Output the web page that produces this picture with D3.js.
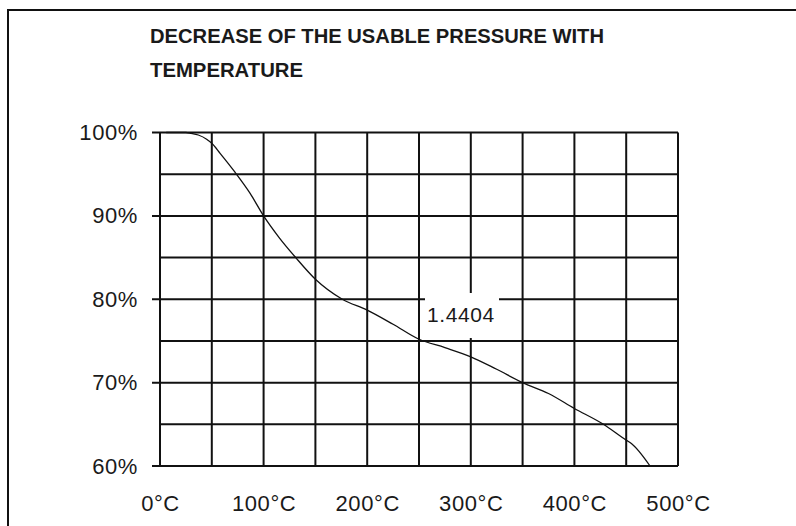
<!DOCTYPE html>
<html lang="en">
<head>
<meta charset="UTF-8">
<title>Decrease of the usable pressure with temperature</title>
<script src="https://cdn.jsdelivr.net/npm/d3@7/dist/d3.min.js"></script>
<style>
  body { margin: 0; background: #fff; }
  text { font-family: "Liberation Sans", Arial, sans-serif; fill: #1a1a1a; }
</style>
</head>
<body>
<svg width="796" height="526"></svg>
<script>
// data
var titleLines = ["DECREASE OF THE USABLE PRESSURE WITH", "TEMPERATURE"];
var temps = [6, 25, 30, 37, 45, 50, 58, 72, 87, 100, 115, 131, 150, 176, 200, 225, 250, 275, 300, 325, 350, 375, 400, 428, 450, 455, 473];
var usable = [100, 100, 99.9, 99.7, 99.2, 98.7, 97.5, 95.3, 92.7, 90, 87.4, 85, 82.4, 80, 78.7, 77, 75.2, 74.2, 73.1, 71.6, 70, 68.7, 66.9, 65, 63.1, 62.7, 60];
var xTicks = [0, 100, 200, 300, 400, 500];
var yTicks = [60, 70, 80, 90, 100];
var note = "1.4404";

var svg = d3.select("svg");
var marge = {top: 132.5, left: 160, right: 118, bottom: 60};
var w = 796 - marge.left - marge.right;   // 518
var h = 466 - marge.top;

// outer frame (runs off the right and bottom edges)
svg.append("rect")
    .attr("x", 8).attr("y", 10)
    .attr("width", 820).attr("height", 560)
    .attr("fill", "none").attr("stroke", "#111").attr("stroke-width", 2);

// title
var titleLen = [454, 153];
svg.selectAll(".title").data(titleLines).enter().append("text")
    .attr("class", "title")
    .attr("x", 150)
    .attr("y", function(d, i) { return 43 + i * 34; })
    .attr("font-size", 21)
    .attr("font-weight", "bold")
    .attr("textLength", function(d, i) { return titleLen[i]; })
    .attr("lengthAdjust", "spacingAndGlyphs")
    .text(function(d) { return d; });

var xScale = d3.scaleLinear().domain([0, 500]).range([0, w]);
var yScale = d3.scaleLinear().domain([60, 100]).range([h, 0]);

var g = svg.append("g").attr("transform", "translate(" + marge.left + "," + marge.top + ")");

// grid every 50°C and 5%
g.append("g").selectAll("line").data(d3.range(0, 501, 50)).enter().append("line")
    .attr("x1", function(d) { return xScale(d); })
    .attr("x2", function(d) { return xScale(d); })
    .attr("y1", 0).attr("y2", h)
    .attr("stroke", "#111").attr("stroke-width", 2);
g.append("g").selectAll("line").data(d3.range(60, 101, 5)).enter().append("line")
    .attr("x1", function(d) { return d % 10 === 0 ? -8 : 0; })
    .attr("x2", w)
    .attr("y1", function(d) { return yScale(d); })
    .attr("y2", function(d) { return yScale(d); })
    .attr("stroke", "#111").attr("stroke-width", 2);

// y labels
var yAxis = d3.axisLeft(yScale).tickValues(yTicks).tickSize(0).tickPadding(22)
    .tickFormat(function(d) { return d + "%"; });
var ya = g.append("g").call(yAxis);
ya.select(".domain").remove();
ya.selectAll("text")
    .attr("font-size", 22).attr("letter-spacing", 0.6)
    .attr("font-family", null).attr("fill", "#222");

// x labels
var xAxis = d3.axisBottom(xScale).tickValues(xTicks).tickSize(0).tickPadding(29)
    .tickFormat(function(d) { return d + "°C"; });
var xa = g.append("g").attr("transform", "translate(0," + h + ")").call(xAxis);
xa.select(".domain").remove();
xa.selectAll("text")
    .attr("font-size", 22).attr("letter-spacing", 0.6)
    .attr("font-family", null).attr("fill", "#222");

// curve
var pts = temps.map(function(t, i) { return [t, usable[i]]; });
var line = d3.line()
    .x(function(d) { return xScale(d[0]); })
    .y(function(d) { return yScale(d[1]); })
    .curve(d3.curveMonotoneX);
g.append("path").datum(pts)
    .attr("d", line)
    .attr("fill", "none").attr("stroke", "#111").attr("stroke-width", 1.3);

// value label with white box
svg.append("rect")
    .attr("x", 425).attr("y", 293).attr("width", 74).attr("height", 45)
    .attr("fill", "#fff");
svg.append("text")
    .attr("x", 427).attr("y", 322)
    .attr("font-size", 21).attr("letter-spacing", 0.6)
    .text(note);
</script>
</body>
</html>
